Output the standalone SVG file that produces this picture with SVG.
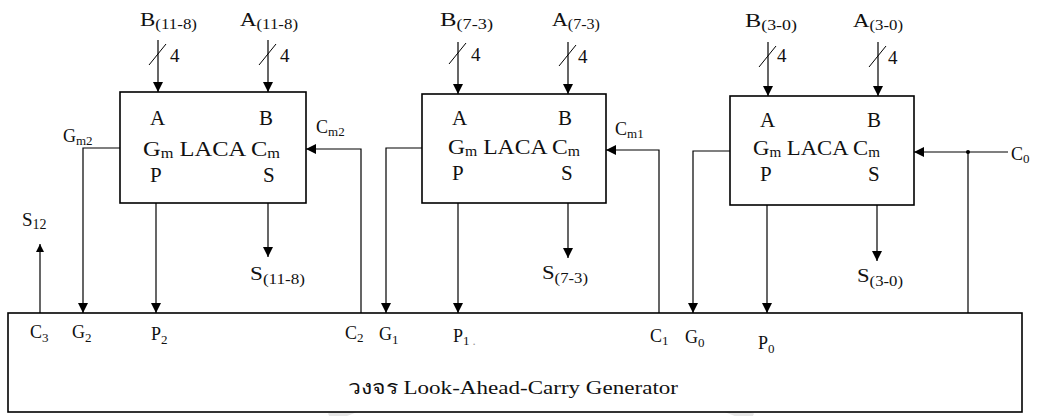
<svg xmlns="http://www.w3.org/2000/svg" width="1037" height="416" viewBox="0 0 1037 416">
<defs>
<marker id="arr" markerUnits="userSpaceOnUse" markerWidth="10" markerHeight="10" refX="10" refY="5" orient="auto">
<path d="M0,0 L10,5 L0,10 z" fill="#000"/>
</marker>
<marker id="arrs" markerUnits="userSpaceOnUse" markerWidth="8" markerHeight="8" refX="8" refY="4" orient="auto">
<path d="M0,0 L8,4 L0,8 z" fill="#000"/>
</marker>
<style>
text{font-family:"Liberation Serif","Times New Roman",serif;font-size:18px;fill:#111}
.blk{font-size:21px}
.top{font-size:19px}
.n4{font-size:19px}
.sub{font-size:13px}
.sub14{font-size:14px}
.main{font-size:19px}
.box{fill:#fff;stroke:#000;stroke-width:1.6}
.w{fill:none;stroke:#000;stroke-width:1.2}
.wa{fill:none;stroke:#000;stroke-width:1.2;marker-end:url(#arr)}
.sl{stroke:#000;stroke-width:1}
</style>
</defs>
<rect width="1037" height="416" fill="#fff"/>
<path d="M330 418 Q540 323 752 418" fill="none" stroke="#e6e6e6" stroke-width="10"/>

<g id="generator">
<rect class="box" x="8" y="313" width="1014" height="99"/>
<text x="30" y="338">C<tspan class="sub" dy="4">3</tspan></text>
<text x="72" y="338">G<tspan class="sub" dy="4">2</tspan></text>
<text x="151" y="340">P<tspan class="sub" dy="4">2</tspan></text>
<text x="345" y="339">C<tspan class="sub" dy="3">2</tspan></text>
<text x="379" y="340">G<tspan class="sub" dy="4">1</tspan></text>
<text x="453" y="342">P<tspan class="sub" dy="3">1</tspan><tspan class="sub" dx="3" dy="0" fill="#999">.</tspan></text>
<text x="650" y="342">C<tspan class="sub" dy="3">1</tspan></text>
<text x="685" y="343">G<tspan class="sub" dy="4">0</tspan></text>
<text x="758" y="349">P<tspan class="sub" dy="4">0</tspan></text>
<text class="main" x="348" y="394" textLength="330" lengthAdjust="spacingAndGlyphs">วงจร Look-Ahead-Carry Generator</text>
</g>

<g id="laca2">
<rect class="box" x="120" y="92" width="186" height="111"/>
<text class="blk" x="150" y="125">A</text>
<text class="blk" x="259" y="125">B</text>
<text class="blk" x="143" y="156" textLength="137" lengthAdjust="spacingAndGlyphs">G<tspan class="sub14" dy="2">m</tspan><tspan dy="-2"> LACA C</tspan><tspan class="sub14" dy="2">m</tspan></text>
<text class="blk" x="150" y="182">P</text>
<text class="blk" x="263" y="182">S</text>
</g>

<g id="laca1">
<rect class="box" x="422" y="94" width="184" height="109"/>
<text class="blk" x="452" y="125">A</text>
<text class="blk" x="558" y="125">B</text>
<text class="blk" x="448" y="154" textLength="132" lengthAdjust="spacingAndGlyphs">G<tspan class="sub14" dy="2">m</tspan><tspan dy="-2"> LACA C</tspan><tspan class="sub14" dy="2">m</tspan></text>
<text class="blk" x="452" y="180">P</text>
<text class="blk" x="561" y="180">S</text>
</g>

<g id="laca0">
<rect class="box" x="730" y="96" width="184" height="109"/>
<text class="blk" x="760" y="127">A</text>
<text class="blk" x="867" y="127">B</text>
<text class="blk" x="753" y="155" textLength="127" lengthAdjust="spacingAndGlyphs">G<tspan class="sub14" dy="2">m</tspan><tspan dy="-2"> LACA C</tspan><tspan class="sub14" dy="2">m</tspan></text>
<text class="blk" x="760" y="181">P</text>
<text class="blk" x="868" y="181">S</text>
</g>

<g id="labels">
<text class="top" x="140" y="26" textLength="57" lengthAdjust="spacingAndGlyphs">B<tspan class="sub14" dy="3">(11-8)</tspan></text>
<text class="top" x="240" y="26" textLength="58" lengthAdjust="spacingAndGlyphs">A<tspan class="sub14" dy="3">(11-8)</tspan></text>
<text class="top" x="440" y="26" textLength="53" lengthAdjust="spacingAndGlyphs">B<tspan class="sub14" dy="3">(7-3)</tspan></text>
<text class="top" x="552" y="26" textLength="48" lengthAdjust="spacingAndGlyphs">A<tspan class="sub14" dy="3">(7-3)</tspan></text>
<text class="top" x="745" y="27" textLength="52" lengthAdjust="spacingAndGlyphs">B<tspan class="sub14" dy="3">(3-0)</tspan></text>
<text class="top" x="853" y="27" textLength="50" lengthAdjust="spacingAndGlyphs">A<tspan class="sub14" dy="3">(3-0)</tspan></text>
<text class="n4" x="170" y="62">4</text>
<text class="n4" x="280" y="62">4</text>
<text class="n4" x="471" y="61">4</text>
<text class="n4" x="578" y="63">4</text>
<text class="n4" x="777" y="62">4</text>
<text class="n4" x="888" y="64">4</text>
<text x="63" y="142">G<tspan class="sub" dy="3">m2</tspan></text>
<text x="316" y="133">C<tspan class="sub" dy="3">m2</tspan></text>
<text x="615" y="135">C<tspan class="sub" dy="3">m1</tspan></text>
<text x="1011" y="160">C<tspan class="sub" dy="3">0</tspan></text>
<text class="top" x="22" y="226">S<tspan class="sub14" dy="3">12</tspan></text>
<text class="top" x="250" y="280" textLength="55" lengthAdjust="spacingAndGlyphs">S<tspan class="sub14" dy="4">(11-8)</tspan></text>
<text class="top" x="542" y="279" textLength="46" lengthAdjust="spacingAndGlyphs">S<tspan class="sub14" dy="4">(7-3)</tspan></text>
<text class="top" x="857" y="282" textLength="46" lengthAdjust="spacingAndGlyphs">S<tspan class="sub14" dy="4">(3-0)</tspan></text>
</g>

<g id="connectors">
<path class="wa" d="M158 40 V92"/>
<path class="wa" d="M268 40 V92"/>
<path class="wa" d="M458 42 V94"/>
<path class="wa" d="M568 42 V94"/>
<path class="wa" d="M768 42 V96"/>
<path class="wa" d="M878 42 V96"/>
<line class="sl" x1="149" y1="65" x2="166" y2="44"/>
<line class="sl" x1="259" y1="65" x2="276" y2="44"/>
<line class="sl" x1="449" y1="64" x2="466" y2="43"/>
<line class="sl" x1="559" y1="66" x2="576" y2="45"/>
<line class="sl" x1="759" y1="67" x2="776" y2="46"/>
<line class="sl" x1="869" y1="67" x2="886" y2="46"/>
<path class="wa" d="M120 148 H83 V313"/>
<path class="wa" d="M361 313 V149 H306"/>
<path class="wa" d="M156 203 V313"/>
<path class="wa" d="M268 203 V257"/>
<path class="w" d="M40 313 V244" marker-end="url(#arrs)"/>
<path class="wa" d="M422 148 H386 V313"/>
<path class="wa" d="M659 313 V150 H606"/>
<path class="wa" d="M458 203 V313"/>
<path class="wa" d="M568 203 V258"/>
<path class="wa" d="M730 151 H693 V313"/>
<path class="wa" d="M1008 152 H914"/>
<path class="w" d="M968 152 V313"/>
<circle cx="968" cy="152" r="2" fill="#000"/>
<path class="wa" d="M767 205 V313"/>
<path class="wa" d="M877 205 V261"/>
</g>
</svg>
